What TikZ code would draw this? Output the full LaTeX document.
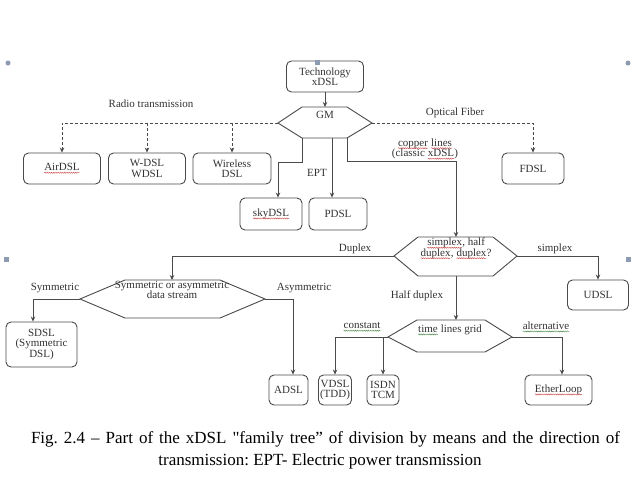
\documentclass[tikz,border=0pt]{standalone}
\usepackage{fontspec}
\setmainfont{Liberation Serif}
\usetikzlibrary{arrows.meta,decorations.pathmorphing}
\definecolor{linec}{HTML}{4A4A4A}
\definecolor{txtc}{HTML}{333333}
\definecolor{handlec}{HTML}{8C9BB0}
\definecolor{spellred}{HTML}{D05050}
\definecolor{spellgreen}{HTML}{4F8F4F}
\frenchspacing
\newcommand{\wavy}[2][spellred]{\tikz[baseline=(w.base)]{\node[shape=rectangle, draw=none, fill=none, inner sep=0pt, outer sep=0pt, minimum width=0pt, minimum height=0pt, rounded corners=0pt] (w) {#2};\draw[#1, line width=0.45pt, rounded corners=0pt, decorate, decoration={snake,amplitude=0.55pt,segment length=2.2pt}] ([yshift=-2pt]w.base west) -- ([yshift=-2pt]w.base east);}}
\begin{document}
\begin{tikzpicture}[x=1pt,y=-1pt,
  box/.style={draw=linec, rounded corners=5pt, line width=0.9pt, align=center, inner sep=0pt, font=\fontsize{11}{10.5}\selectfont, text=txtc},
  lbl/.style={align=center, inner sep=0pt, font=\fontsize{11}{10.5}\selectfont, text=txtc},
  conn/.style={draw=linec, line width=0.8pt, -{Stealth[length=5pt,width=4.5pt]}},
  dconn/.style={conn, dash pattern=on 3pt off 2pt},
  hexa/.style={draw=linec, line width=0.9pt},
  handle/.style={fill=handlec, draw=none}]
\useasboundingbox (0,0) rectangle (640,480);
\fill[white] (0,0) rectangle (640,480);

% top
\node[box, minimum width=77pt, minimum height=31pt] (tech) at (325,76.5) {Technology\\xDSL};
\draw[hexa] (278,123) -- (302,107) -- (347,107) -- (372,123) -- (347,138) -- (302,138) -- cycle;
\coordinate (gmL) at (278,123);
\coordinate (gmR) at (372,123);
\coordinate (gmT) at (325,107);
\coordinate (gmB1) at (302,138);
\coordinate (gmE) at (332,138);
\coordinate (gmB2) at (347,138);
\node[lbl] (gm) at (325,115) {GM};
\draw[conn] (tech.south) -- (gmT);

% radio
\node[box, minimum width=77pt, minimum height=31pt] (air) at (62,168.5) {\wavy{AirDSL}};
\node[box, minimum width=77pt, minimum height=31pt] (wdsl) at (147,168.5) {W-DSL\\WDSL};
\node[box, minimum width=78pt, minimum height=31pt] (wless) at (232,168.5) {Wireless\\DSL};
\draw[dconn] (gmL) -| (air.north);
\draw[dconn] (wdsl.north |- gmL) -- (wdsl.north);
\draw[dconn] (wless.north |- gmL) -- (wless.north);
\node[lbl] (radio) at (151,104) {Radio transmission};

% optical
\node[box, minimum width=62pt, minimum height=31pt] (fdsl) at (533,168.5) {FDSL};
\draw[dconn] (gmR) -| (fdsl.north);
\node[lbl] (opt) at (455,113) {Optical Fiber};

% EPT
\node[box, minimum width=62pt, minimum height=32pt] (sky) at (271,214) {\wavy{skyDSL}};
\node[box, minimum width=58pt, minimum height=32pt] (pdsl) at (338,214) {PDSL};
\draw[conn] (gmB1) -- ++(0,24) -| ([xshift=7pt]sky.north);
\draw[conn] (gmE) -- (gmE |- pdsl.north);
\node[lbl] (ept) at (317,173) {EPT};

% copper
\draw[hexa] (394,256) -- (418,237) -- (493,237) -- (517,256) -- (493,276) -- (418,276) -- cycle;
\coordinate (simL) at (394,256);
\coordinate (simR) at (517,256);
\coordinate (simT) at (456,237);
\coordinate (simB) at (456,276);
\node[lbl] (sim) at (456,248.5) {\wavy{simplex}, half\\\wavy{duplex}, \wavy{duplex}?};
\draw[conn] (gmB2) -- ++(0,23) -| (simT);
\node[lbl] (copper) at (425,149) {\wavy{copper} \wavy{lines}\\(classic \wavy{xDSL})};

% simplex
\node[box, minimum width=61pt, minimum height=30pt] (udsl) at (598,295) {UDSL};
\draw[conn] (simR) -| (udsl.north);
\node[lbl] (simplex) at (555,249) {simplex};

% duplex
\draw[hexa] (80,299) -- (125,280) -- (220,280) -- (265,299) -- (220,318) -- (125,318) -- cycle;
\coordinate (symL) at (80,299);
\coordinate (symR) at (265,299);
\coordinate (symT) at (172,280);
\node[lbl] (sym) at (172,290) {Symmetric or asymmetric\\data stream};
\draw[conn] (simL) -| (symT);
\node[lbl] (duplex) at (355,249) {Duplex};

\node[box, minimum width=71pt, minimum height=45pt] (sdsl) at (41.5,344.5) {SDSL\\(Symmetric\\DSL)};
\node[box, minimum width=39pt, minimum height=30pt] (adsl) at (288.5,390) {ADSL};
\draw[conn] (symL) -| ([xshift=-8.5pt]sdsl.north);
\draw[conn] (symR) -| ([xshift=4.5pt]adsl.north);
\node[lbl] (symlbl) at (55,288) {Symmetric};
\node[lbl] (asymlbl) at (304,288) {Asymmetric};

% half duplex
\draw[hexa] (388,337) -- (417,320) -- (485,320) -- (512,337) -- (485,352) -- (417,352) -- cycle;
\coordinate (tlL) at (388,337);
\coordinate (tlR) at (512,337);
\coordinate (tlT) at (456,320);
\coordinate (tlI) at (383,337);
\node[lbl] (tl) at (450,330) {\wavy[spellgreen]{time} lines grid};
\draw[conn] (simB) -- (tlT);
\node[lbl] (half) at (417,296) {Half duplex};

\node[box, minimum width=33pt, minimum height=30pt] (vdsl) at (335,390) {VDSL\\(TDD)};
\node[box, minimum width=32pt, minimum height=30pt] (isdn) at (383,390) {ISDN\\TCM};
\node[box, minimum width=67pt, minimum height=30pt] (ether) at (558.5,390) {\wavy{EtherLoop}};
\draw[conn] (tlL) -| (vdsl.north);
\draw[conn] (tlI) -- (isdn.north);
\draw[conn] (tlR) -| ([xshift=3.5pt]ether.north);
\node[lbl] (const) at (362,327) {\wavy[spellgreen]{constant}};
\node[lbl] (alt) at (546,327) {\wavy[spellgreen]{alternative}};

% caption
\node[align=center, inner sep=0pt, font=\fontsize{17}{22}\selectfont] (cap) at (320,450) {\hspace*{11pt}\makebox[589pt][s]{Fig. 2.4 – Part of the xDSL \textquotedbl family tree” of division by means and the direction of}\\transmission: EPT- Electric power transmission};

% selection handles
\fill[handle] (8,63) circle (2.5pt);
\fill[handle] (628,63) circle (2.5pt);
\fill[handle] (314.5,59.5) rectangle (319.5,64.5);
\fill[handle] (3.5,256.5) rectangle (8.5,261.5);
\fill[handle] (625.5,256.5) rectangle (630.5,261.5);
\end{tikzpicture}
\end{document}
